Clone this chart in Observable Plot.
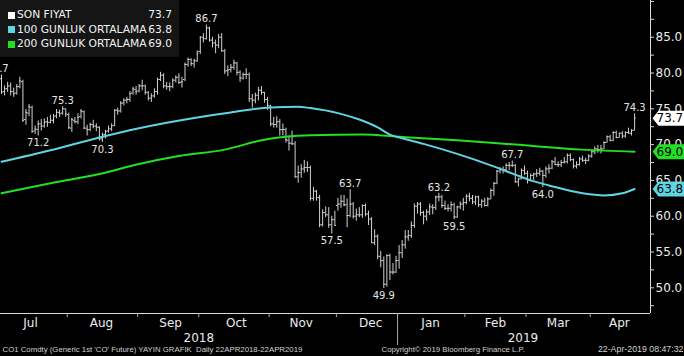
<!DOCTYPE html>
<html>
<head>
<meta charset="utf-8">
<script src="https://cdn.jsdelivr.net/npm/d3@7"></script>
<script src="https://cdn.jsdelivr.net/npm/@observablehq/plot@0.6"></script>
<style>
  html, body { margin: 0; padding: 0; background: #000; }
  #wrap { position: relative; width: 684px; height: 356px; overflow: hidden; background: #000; }
  #legend { position: absolute; left: 0; top: 0; width: 179px; height: 57px; background: #151515;
            font-family: "DejaVu Sans", sans-serif; font-size: 10.7px; color: #f2f2f2; }
  .row { position: absolute; left: 0; width: 179px; height: 14px; line-height: 14px; }
  .sq { position: absolute; left: 8px; top: 3.5px; width: 7px; height: 7px; }
  .lab { position: absolute; left: 17px; }
  .val { position: absolute; right: 7px; }
</style>
</head>
<body>
<div id="wrap">
  <div id="chart"></div>
  <div id="legend"></div>
</div>
<script>
// ---- Daily OHLC bars, Brent CO1, trading days from 2 Jul 2018 to 22 Apr 2019 ----
const opens = [
 79.2,77.4,77.8,78.2,77.4,77.2,78.1,78.8,73.5,74.4,75.2,71.9,72.1,72.9,72.6,73.2,73.1,73.4,74.0,74.5,74.4,75.0,
 74.2,72.3,73.4,73.2,73.9,74.6,72.3,72.1,72.8,72.6,72.4,70.8,71.4,71.9,72.2,72.7,74.8,74.7,75.8,76.2,76.3,77.2,77.7,
 77.5,78.2,78.2,77.3,76.5,76.8,77.4,79.1,79.7,78.2,78.1,78.1,79.0,79.4,78.7,79.1,81.2,81.9,81.3,81.7,
 83.0,85.0,84.8,86.3,84.6,84.2,83.9,85.0,83.1,80.3,80.5,80.8,81.4,80.1,79.3,79.8,79.8,76.4,76.2,76.9,77.6,77.3,76.3,
 75.4,72.9,72.8,73.2,72.1,72.1,70.6,70.2,70.1,65.5,66.1,66.6,66.8,66.8,62.5,63.5,62.6,58.8,60.5,60.2,58.8,59.5,
 61.5,61.7,62.1,61.6,60.1,61.7,60.0,60.2,60.2,61.5,60.3,59.6,56.3,57.2,54.4,53.8,50.5,54.5,52.2,52.2,
 53.8,54.9,56.0,57.1,57.3,58.7,61.4,61.7,60.5,60.0,60.6,61.3,61.2,62.7,62.7,61.5,61.1,61.1,61.6,59.9,61.3,61.7,
 61.9,62.8,62.5,62.0,62.7,61.6,62.1,61.5,62.4,63.6,64.6,66.3,66.5,66.5,67.1,67.1,67.1,64.8,65.2,66.4,
 66.0,65.1,65.7,65.9,66.0,66.3,65.7,66.6,66.7,67.6,67.2,67.2,67.5,67.6,68.5,67.9,67.0,67.2,68.0,67.8,67.8,
 68.4,69.0,69.4,69.3,69.4,70.3,71.1,70.6,71.7,71.0,71.6,71.2,71.7,71.6,72.0
];
const highs = [
 79.7,78.2,78.7,78.6,77.9,78.4,79.4,79.0,74.9,75.6,75.4,72.6,73.3,73.5,73.6,73.8,74.1,74.2,74.9,74.8,75.3,75.0,
 74.4,73.7,73.8,74.3,74.9,74.7,72.7,73.0,73.4,72.9,72.5,71.6,72.0,72.6,72.9,74.9,75.1,76.0,76.4,76.6,77.4,78.0,78.1,
 78.4,79.0,78.3,77.4,77.1,77.8,79.3,80.1,79.9,78.7,78.6,79.2,79.6,79.9,79.4,81.4,82.1,82.0,81.9,83.1,
 85.1,85.5,86.7,86.4,85.0,84.6,85.4,85.5,83.3,81.0,81.2,81.8,81.5,80.3,80.0,80.6,80.0,77.0,77.2,78.0,78.1,77.3,76.6,
 75.5,73.8,73.9,73.5,72.9,72.3,71.2,71.9,70.4,67.0,67.2,67.8,67.6,67.0,64.0,63.6,62.9,60.9,61.3,61.2,60.0,60.7,
 62.5,62.9,62.9,62.4,63.7,61.9,61.0,61.2,61.6,61.7,60.7,59.8,58.1,57.4,55.1,54.3,54.6,54.7,53.4,54.4,
 55.9,56.6,58.0,58.0,59.2,61.7,61.9,61.9,60.7,60.9,61.7,61.6,62.8,63.2,62.9,62.1,61.6,62.0,61.8,61.4,62.0,62.5,
 63.0,63.2,62.9,62.8,62.8,62.3,62.5,62.6,63.8,64.7,66.4,66.8,66.9,67.3,67.5,67.7,67.2,65.3,66.6,67.0,
 66.3,65.9,66.0,66.5,66.7,66.4,66.9,67.2,67.8,68.2,67.6,67.8,68.2,68.7,68.7,68.0,67.6,68.2,68.4,68.1,68.6,
 69.2,69.7,69.9,69.9,70.4,71.2,71.3,71.8,71.9,71.6,71.8,71.8,72.3,72.1,74.3
];
const lows = [
 77.0,76.8,77.3,76.8,76.6,76.9,77.8,73.1,72.7,73.9,71.6,71.4,71.2,71.9,72.3,72.4,72.9,72.9,73.6,73.8,74.1,73.8,
 72.1,71.7,72.9,72.8,73.6,72.1,71.2,71.8,72.2,71.8,70.5,70.3,70.8,71.6,71.8,72.5,74.1,74.4,75.4,75.7,75.9,76.9,76.9,
 77.2,77.5,76.9,76.1,75.9,76.5,76.9,78.8,77.8,77.6,77.4,77.8,78.6,78.4,77.9,78.8,80.8,80.9,80.7,81.5,
 82.6,84.2,84.6,84.3,83.5,82.7,83.4,82.9,79.8,79.5,80.0,80.4,79.6,78.7,79.0,79.1,75.9,75.1,75.7,76.1,76.9,75.8,74.8,
 72.5,72.3,72.3,71.2,71.2,70.2,69.1,69.9,65.3,64.6,65.3,66.0,66.1,62.1,62.1,62.1,58.4,58.5,59.8,58.3,57.5,58.6,
 60.7,61.1,61.3,58.4,59.8,59.6,59.3,59.8,59.7,59.9,58.7,56.2,55.9,53.9,52.8,49.9,50.1,51.0,51.8,52.0,
 52.6,54.1,55.4,56.5,56.9,58.3,60.3,60.0,58.8,59.3,60.1,60.2,60.8,62.0,61.1,60.8,60.6,60.6,59.5,59.7,60.9,60.7,
 61.6,62.0,61.6,61.5,61.2,61.1,61.3,61.3,62.3,62.8,64.4,65.9,65.9,66.2,66.4,66.8,64.6,64.1,65.1,65.7,
 64.5,64.8,65.0,65.4,65.6,64.0,65.3,65.9,66.5,67.1,66.8,66.8,67.3,67.3,67.6,66.6,66.6,67.0,67.5,67.2,67.6,
 68.1,68.6,68.8,68.7,69.3,70.2,70.4,70.4,70.8,70.9,70.8,70.9,71.5,71.2,71.9
];
const closes = [
 77.3,77.8,78.2,77.4,77.1,78.1,78.9,73.4,74.5,75.3,71.8,72.2,72.9,72.6,73.1,73.1,73.4,73.9,74.5,74.3,75.0,74.3,
 72.4,73.5,73.2,73.8,74.7,72.3,72.1,72.8,72.6,72.5,70.8,71.4,71.8,72.2,72.6,74.8,74.7,75.8,76.2,76.3,77.1,77.8,77.4,
 78.2,78.2,77.3,76.5,76.8,77.4,79.1,79.7,78.2,78.1,78.1,79.0,79.4,78.7,78.8,81.2,81.9,81.3,81.7,82.7,
 85.0,84.8,86.3,84.6,84.2,83.9,85.0,83.1,80.3,80.4,80.8,81.4,80.1,79.3,79.8,79.8,76.4,76.2,76.9,77.6,77.3,76.3,75.5,
 72.9,72.8,73.2,72.1,72.1,70.7,70.2,70.1,65.5,66.1,66.6,66.8,66.8,62.5,63.5,62.6,58.8,60.5,60.2,58.8,59.5,58.7,
 61.7,62.1,61.6,60.1,61.7,60.0,60.2,60.2,61.5,60.3,59.6,56.3,57.2,54.4,53.8,50.5,54.5,52.2,52.2,53.8,
 54.9,56.0,57.1,57.3,58.7,61.4,61.7,60.5,60.0,60.6,61.3,61.2,62.7,62.7,61.5,61.1,61.1,61.6,59.9,61.3,61.7,61.9,
 62.8,62.5,62.0,62.7,61.6,62.1,61.5,62.4,63.6,64.6,66.3,66.5,66.5,67.1,67.1,67.1,64.8,65.2,66.4,66.0,
 65.1,65.7,65.9,66.0,66.3,65.7,66.6,66.7,67.6,67.2,67.2,67.5,67.6,68.5,67.9,67.0,67.2,68.0,67.8,67.8,68.4,
 69.0,69.4,69.3,69.4,70.3,71.1,70.6,71.7,71.0,71.6,71.2,71.7,71.6,72.0,73.7
];

// ---- Moving averages (trading-day index, value) ----
const ma100Idx = [0, 16, 32, 45, 64, 75, 88, 97, 101, 110, 117, 123, 127, 131, 138, 149, 160, 168, 173, 179, 190, 197, 203, 207];
const ma100Val = [67.6, 69.2, 71.0, 72.3, 73.8, 74.5, 75.2, 75.3, 75.1, 74.4, 73.5, 72.4, 71.4, 70.9, 70.1, 68.7, 67.1, 65.8, 65.0, 64.3, 63.2, 62.9, 63.2, 63.8];
const ma200Idx = [0, 16, 32, 45, 58, 73, 85, 101, 118, 130, 149, 168, 190, 207];
const ma200Val = [63.2, 64.6, 65.9, 67.3, 68.4, 69.3, 70.6, 71.3, 71.4, 71.1, 70.6, 70.0, 69.3, 69.0];

// ---- Peak / trough annotations (first one belongs to a bar just left of the visible window) ----
const noteIdx  = [-1.3, 12, 20, 33, 67, 108, 114, 125, 143, 148, 167, 177, 207];
const noteVal  = [79.7, 71.2, 75.3, 70.3, 86.7, 57.5, 63.7, 49.9, 63.2, 59.5, 67.7, 64.0, 74.3];
const noteSide = ["hi", "lo", "hi", "lo", "hi", "lo", "hi", "lo", "hi", "lo", "hi", "lo", "hi"];

// ---- Axis labels ----
const monthNames = ["Jul", "Aug", "Sep", "Oct", "Nov", "Dec", "Jan", "Feb", "Mar", "Apr"];
const monthLabelIdx = [9.5, 32.7, 55.3, 76.8, 98, 120.7, 140.3, 161.5, 182, 202];
const monthBoundIdx = [21.5, 44.5, 64.5, 87.5, 109.5, 129.5, 151.5, 171.5, 192.5];
const yearNames = ["2018", "2019"];
const yearLabelIdx = [64.5, 170.5];
const yearBoundIdx = [129.5];
const yTicks = [50, 55, 60, 65, 70, 75, 80, 85];
const yMinorTicks = [47.5, 52.5, 57.5, 62.5, 67.5, 72.5, 77.5, 82.5, 87.5, 90];

// ---- Legend / last-value tags ----
const legendNames  = ["SON FIYAT", "100 GUNLUK ORTALAMA", "200 GUNLUK ORTALAMA"];
const legendValues = [73.7, 63.8, 69.0];
const legendColors = ["#ffffff", "#5fd4e2", "#22e022"];

const footLeft = "CO1 Comdty (Generic 1st 'CO' Future) YAYIN GRAFIK  Daily 22APR2018-22APR2019";
const footMid = "Copyright\u00A9 2019 Bloomberg Finance L.P.";
const footRight = "22-Apr-2019 08:47:32";

// ---- build tables ----
const bars = closes.map((c, i) => ({i, o: opens[i], h: highs[i], l: lows[i], c}));
const ma100 = ma100Idx.map((i, k) => ({i, v: ma100Val[k]}));
const ma200 = ma200Idx.map((i, k) => ({i, v: ma200Val[k]}));
const notes = noteIdx.map((i, k) => ({i, v: noteVal[k], side: noteSide[k]}));
const tags = legendValues.map((v, k) => ({v, color: legendColors[k]}));

const X0 = -0.33, X1 = 212.2, Y0 = 46.41, Y1 = 90.13;
const barColor = "#d2d2d2";
const axisColor = "#d8d8d8";
const footFont = "Liberation Sans, Arial, sans-serif";

const tagShape = {
  draw(ctx) {
    ctx.moveTo(2, 0);
    ctx.lineTo(8, -7.5);
    ctx.lineTo(40, -7.5);
    ctx.lineTo(40, 7.5);
    ctx.lineTo(8, 7.5);
    ctx.closePath();
  }
};

const chart = Plot.plot({
  width: 684,
  height: 356,
  marginLeft: 0,
  marginTop: 0,
  marginRight: 34,
  marginBottom: 43,
  style: {background: "#000", color: axisColor, fontFamily: "DejaVu Sans, sans-serif"},
  x: {domain: [X0, X1], axis: null, label: null},
  y: {domain: [Y0, Y1], axis: null, label: null},
  color: {type: "identity"},
  marks: [
    // frame lines
    Plot.ruleY([Y0], {stroke: axisColor}),
    Plot.ruleX([X1], {stroke: axisColor}),
    // right axis
    Plot.axisY({anchor: "right", label: null, ticks: yTicks, tickFormat: d => d.toFixed(1), tickSize: 3, tickPadding: 2,
                fontSize: 12, stroke: axisColor, fill: "#ececec"}),
    Plot.axisY({anchor: "right", label: null, ticks: yMinorTicks, tickFormat: () => "", tickSize: 3, stroke: axisColor}),
    // bottom axis
    Plot.axisX({anchor: "bottom", label: null, ticks: monthBoundIdx, tickFormat: () => "", tickSize: 4, stroke: "#aaaaaa"}),
    Plot.axisX({anchor: "bottom", label: null, ticks: yearBoundIdx, tickFormat: () => "", tickSize: 32, stroke: "#aaaaaa"}),
    Plot.axisX({anchor: "bottom", label: null, ticks: monthLabelIdx, tickSize: 0, tickPadding: 5, fontSize: 12, fill: "#ececec",
                tickFormat: d => monthNames[monthLabelIdx.indexOf(d)]}),
    Plot.axisX({anchor: "bottom", label: null, ticks: yearLabelIdx, tickSize: 0, tickPadding: 20, fontSize: 12, fill: "#ececec",
                tickFormat: d => yearNames[yearLabelIdx.indexOf(d)]}),
    // OHLC bars
    Plot.ruleX(bars, {x: "i", y1: "l", y2: "h", stroke: barColor, strokeWidth: 1}),
    Plot.ruleY(bars, {y: "o", x1: d => d.i - 0.5, x2: "i", stroke: barColor, strokeWidth: 1}),
    Plot.ruleY(bars, {y: "c", x1: "i", x2: d => d.i + 0.5, stroke: barColor, strokeWidth: 1}),
    // moving averages
    Plot.line(ma200, {x: "i", y: "v", stroke: legendColors[2], strokeWidth: 2, curve: "monotone-x"}),
    Plot.line(ma100, {x: "i", y: "v", stroke: legendColors[1], strokeWidth: 2, curve: "monotone-x"}),
    // annotations
    Plot.text(notes.filter(d => d.side === "hi"), {x: "i", y: "v", text: d => d.v.toFixed(1), dy: -6, fontSize: 10, fill: "#e6e6e6"}),
    Plot.text(notes.filter(d => d.side === "lo"), {x: "i", y: "v", text: d => d.v.toFixed(1), dy: 7, fontSize: 10, fill: "#e6e6e6"}),
    // last value tags
    Plot.dot(tags, {x: () => X1, y: "v", symbol: tagShape, fill: "color", r: 5}),
    Plot.text(tags, {x: () => X1, y: "v", text: d => d.v.toFixed(1), dx: 6, textAnchor: "start", fontSize: 12, fill: "#000"}),
    // footnote
    Plot.text([footLeft], {frameAnchor: "bottom-left", text: d => d, dx: 2, dy: 38, textAnchor: "start",
                           fontSize: 7.8, fontFamily: footFont, fill: "#d0d0d0"}),
    Plot.text([footMid], {frameAnchor: "bottom-left", text: d => d, dx: 381, dy: 38, textAnchor: "start",
                          fontSize: 7.8, fontFamily: footFont, fill: "#d0d0d0"}),
    Plot.text([footRight], {frameAnchor: "bottom-right", text: d => d, dx: 33, dy: 38, textAnchor: "end",
                            fontSize: 8.8, fontFamily: footFont, fill: "#d0d0d0"})
  ]
});
document.getElementById("chart").appendChild(chart);

// legend box
const legend = document.getElementById("legend");
legendNames.forEach((name, k) => {
  const row = document.createElement("div");
  row.className = "row";
  row.style.top = (8 + k * 14.6) + "px";
  row.innerHTML = `<span class="sq" style="background:${legendColors[k]}"></span>` +
                  `<span class="lab">${name}</span><span class="val">${legendValues[k].toFixed(1)}</span>`;
  legend.appendChild(row);
});
</script>
</body>
</html>
